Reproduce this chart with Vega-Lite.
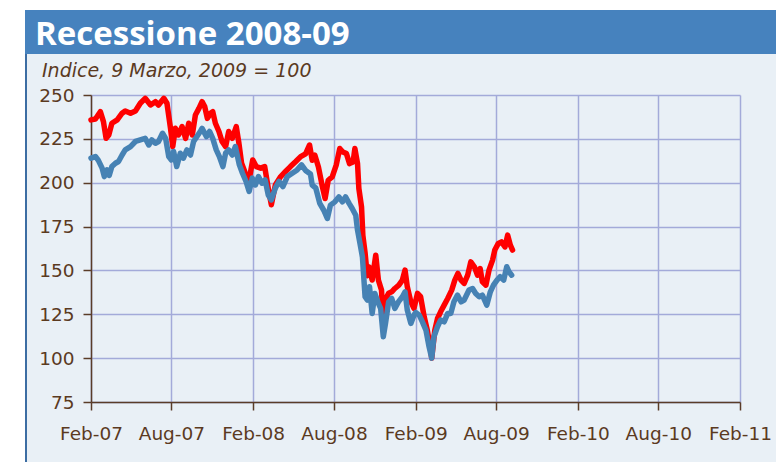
{
"$schema": "https://vega.github.io/schema/vega-lite/v6.json",
"background": "#E9F0F6",
"padding": 0,
"spacing": 0,
"bounds": "flush",
"config": {"view": {"stroke": null}, "font": "Open Sans", "concat": {"spacing": 0}},
"datasets": {
"rosso": [
{"d":"2007-02-01","v":235.8},{"d":"2007-02-11","v":236.3},{"d":"2007-02-22","v":240.5},{"d":"2007-03-01","v":234.8},{"d":"2007-03-07","v":225.3},{"d":"2007-03-13","v":227.2},{"d":"2007-03-20","v":233.9},{"d":"2007-04-01","v":235.8},{"d":"2007-04-12","v":239.6},{"d":"2007-04-19","v":240.9},{"d":"2007-05-01","v":239.6},{"d":"2007-05-12","v":240.9},{"d":"2007-05-23","v":245.3},{"d":"2007-06-03","v":248.1},{"d":"2007-06-15","v":244.3},{"d":"2007-06-26","v":246.2},{"d":"2007-07-03","v":244.3},{"d":"2007-07-15","v":248.1},{"d":"2007-07-22","v":245.3},{"d":"2007-07-30","v":231},{"d":"2007-08-04","v":220.6},{"d":"2007-08-10","v":231},{"d":"2007-08-17","v":227.2},{"d":"2007-08-25","v":232},{"d":"2007-09-02","v":225.3},{"d":"2007-09-09","v":233.9},{"d":"2007-09-17","v":227.2},{"d":"2007-09-24","v":238.6},{"d":"2007-10-02","v":242.4},{"d":"2007-10-09","v":246.2},{"d":"2007-10-15","v":243.4},{"d":"2007-10-21","v":236.7},{"d":"2007-10-28","v":239.6},{"d":"2007-11-02","v":240.5},{"d":"2007-11-08","v":233.9},{"d":"2007-11-16","v":229.2},{"d":"2007-11-23","v":223.5},{"d":"2007-12-01","v":220.6},{"d":"2007-12-08","v":229.2},{"d":"2007-12-16","v":225.3},{"d":"2007-12-25","v":232},{"d":"2007-12-31","v":222.5},{"d":"2008-01-06","v":211.1},{"d":"2008-01-13","v":206.4},{"d":"2008-01-21","v":198.7},{"d":"2008-01-31","v":213},{"d":"2008-02-08","v":209.2},{"d":"2008-02-18","v":208.3},{"d":"2008-02-27","v":209.2},{"d":"2008-03-06","v":196.9},{"d":"2008-03-13","v":187.4},{"d":"2008-03-22","v":198.7},{"d":"2008-04-03","v":203.5},{"d":"2008-04-14","v":206.4},{"d":"2008-04-25","v":209.2},{"d":"2008-05-07","v":212.1},{"d":"2008-05-18","v":214.9},{"d":"2008-05-29","v":216.5},{"d":"2008-06-07","v":221.5},{"d":"2008-06-13","v":212.8},{"d":"2008-06-19","v":215.7},{"d":"2008-06-27","v":209},{"d":"2008-07-06","v":197.6},{"d":"2008-07-12","v":191},{"d":"2008-07-19","v":201.4},{"d":"2008-07-28","v":203.3},{"d":"2008-08-06","v":210},{"d":"2008-08-14","v":219.5},{"d":"2008-08-21","v":217.5},{"d":"2008-08-29","v":216.6},{"d":"2008-09-05","v":210.9},{"d":"2008-09-13","v":211.8},{"d":"2008-09-17","v":219.5},{"d":"2008-09-23","v":210.9},{"d":"2008-09-26","v":196.7},{"d":"2008-10-02","v":186.2},{"d":"2008-10-05","v":170},{"d":"2008-10-10","v":160},{"d":"2008-10-15","v":147},{"d":"2008-10-19","v":152},{"d":"2008-10-26","v":144.5},{"d":"2008-11-03","v":158.7},{"d":"2008-11-09","v":144.5},{"d":"2008-11-16","v":138.8},{"d":"2008-11-20","v":118},{"d":"2008-11-24","v":133.1},{"d":"2008-12-02","v":137},{"d":"2008-12-09","v":137.8},{"d":"2008-12-16","v":139.7},{"d":"2008-12-25","v":141.6},{"d":"2009-01-02","v":144.5},{"d":"2009-01-08","v":150.2},{"d":"2009-01-13","v":140.7},{"d":"2009-01-21","v":132.1},{"d":"2009-01-28","v":128.4},{"d":"2009-02-05","v":136.9},{"d":"2009-02-12","v":135},{"d":"2009-02-20","v":123.6},{"d":"2009-02-27","v":116},{"d":"2009-03-05","v":107.5},{"d":"2009-03-09","v":100},{"d":"2009-03-16","v":116},{"d":"2009-03-22","v":122.6},{"d":"2009-03-29","v":126.4},{"d":"2009-04-06","v":130.2},{"d":"2009-04-14","v":134},{"d":"2009-04-23","v":138.8},{"d":"2009-04-30","v":144.5},{"d":"2009-05-07","v":148.3},{"d":"2009-05-14","v":144.5},{"d":"2009-05-21","v":142.6},{"d":"2009-05-29","v":147.3},{"d":"2009-06-05","v":154.9},{"d":"2009-06-13","v":152.1},{"d":"2009-06-20","v":147.3},{"d":"2009-06-26","v":151.1},{"d":"2009-07-01","v":143.5},{"d":"2009-07-09","v":141.6},{"d":"2009-07-16","v":150.2},{"d":"2009-07-24","v":155.9},{"d":"2009-07-29","v":161.6},{"d":"2009-08-06","v":165.4},{"d":"2009-08-13","v":166.3},{"d":"2009-08-21","v":163.4},{"d":"2009-08-27","v":170.1},{"d":"2009-09-02","v":164.4},{"d":"2009-09-07","v":161.6}
],
"blu": [
{"d":"2007-02-01","v":214},{"d":"2007-02-11","v":214.9},{"d":"2007-02-17","v":213},{"d":"2007-02-26","v":208.3},{"d":"2007-03-03","v":203.5},{"d":"2007-03-09","v":207.3},{"d":"2007-03-14","v":204.1},{"d":"2007-03-20","v":209.2},{"d":"2007-03-28","v":211.1},{"d":"2007-04-04","v":212.1},{"d":"2007-04-12","v":215.8},{"d":"2007-04-19","v":218.7},{"d":"2007-05-01","v":220.6},{"d":"2007-05-12","v":223.5},{"d":"2007-05-23","v":224.4},{"d":"2007-06-03","v":225.3},{"d":"2007-06-11","v":221.5},{"d":"2007-06-18","v":224.4},{"d":"2007-06-26","v":222.5},{"d":"2007-07-03","v":223.5},{"d":"2007-07-12","v":228.2},{"d":"2007-07-19","v":225.3},{"d":"2007-07-26","v":214.9},{"d":"2007-08-01","v":213},{"d":"2007-08-06","v":217.8},{"d":"2007-08-13","v":209.2},{"d":"2007-08-21","v":216.8},{"d":"2007-08-28","v":214},{"d":"2007-09-05","v":218.7},{"d":"2007-09-13","v":215.8},{"d":"2007-09-20","v":223.5},{"d":"2007-10-05","v":229.2},{"d":"2007-10-09","v":231},{"d":"2007-10-19","v":226.3},{"d":"2007-10-26","v":229.2},{"d":"2007-11-02","v":225.3},{"d":"2007-11-10","v":218.7},{"d":"2007-11-17","v":214.9},{"d":"2007-11-25","v":209.2},{"d":"2007-12-01","v":216.8},{"d":"2007-12-08","v":218.7},{"d":"2007-12-16","v":215.8},{"d":"2007-12-23","v":220.6},{"d":"2008-01-01","v":210.2},{"d":"2008-01-08","v":205.4},{"d":"2008-01-16","v":200.7},{"d":"2008-01-23","v":195},{"d":"2008-01-30","v":202.6},{"d":"2008-02-06","v":198.7},{"d":"2008-02-13","v":203.5},{"d":"2008-02-21","v":199.7},{"d":"2008-02-28","v":201.6},{"d":"2008-03-06","v":193},{"d":"2008-03-13","v":190.2},{"d":"2008-03-22","v":196.9},{"d":"2008-03-30","v":200.7},{"d":"2008-04-08","v":197.8},{"d":"2008-04-18","v":203.5},{"d":"2008-04-29","v":205.4},{"d":"2008-05-10","v":207.3},{"d":"2008-05-20","v":210.2},{"d":"2008-05-29","v":207},{"d":"2008-06-09","v":205},{"d":"2008-06-13","v":198.6},{"d":"2008-06-21","v":197},{"d":"2008-06-30","v":188.2},{"d":"2008-07-09","v":184.3},{"d":"2008-07-17","v":179.6},{"d":"2008-07-24","v":187.2},{"d":"2008-08-03","v":189.1},{"d":"2008-08-12","v":191.9},{"d":"2008-08-20","v":189.1},{"d":"2008-08-27","v":191.9},{"d":"2008-09-04","v":188.2},{"d":"2008-09-11","v":185.3},{"d":"2008-09-19","v":181.5},{"d":"2008-09-23","v":173},{"d":"2008-09-30","v":163.4},{"d":"2008-10-04","v":157.7},{"d":"2008-10-10","v":135},{"d":"2008-10-15","v":133.1},{"d":"2008-10-20","v":140.7},{"d":"2008-10-26","v":125.5},{"d":"2008-11-01","v":136.9},{"d":"2008-11-09","v":131.2},{"d":"2008-11-14","v":128.4},{"d":"2008-11-20","v":112.2},{"d":"2008-11-25","v":119.8},{"d":"2008-12-02","v":132.1},{"d":"2008-12-09","v":134},{"d":"2008-12-16","v":128.4},{"d":"2008-12-24","v":132.1},{"d":"2009-01-02","v":135},{"d":"2009-01-08","v":137.8},{"d":"2009-01-13","v":127.4},{"d":"2009-01-21","v":119.8},{"d":"2009-01-28","v":124.5},{"d":"2009-02-01","v":126},{"d":"2009-02-09","v":124.5},{"d":"2009-02-16","v":120.7},{"d":"2009-02-24","v":116},{"d":"2009-03-03","v":106.5},{"d":"2009-03-09","v":100},{"d":"2009-03-14","v":112.2},{"d":"2009-03-22","v":117.9},{"d":"2009-03-29","v":121.7},{"d":"2009-04-06","v":120.7},{"d":"2009-04-14","v":125.5},{"d":"2009-04-21","v":125.5},{"d":"2009-04-28","v":132.1},{"d":"2009-05-06","v":135.9},{"d":"2009-05-14","v":132.1},{"d":"2009-05-21","v":133.1},{"d":"2009-06-01","v":138.8},{"d":"2009-06-09","v":139.7},{"d":"2009-06-16","v":136.9},{"d":"2009-06-24","v":135},{"d":"2009-07-01","v":135.9},{"d":"2009-07-11","v":130.2},{"d":"2009-07-19","v":137.8},{"d":"2009-07-26","v":141.6},{"d":"2009-08-03","v":144.5},{"d":"2009-08-10","v":146.4},{"d":"2009-08-18","v":144.5},{"d":"2009-08-25","v":152.1},{"d":"2009-08-30","v":149.2},{"d":"2009-09-05","v":147.3}
],
"vuoto": []
},
"hconcat": [
{"width": 25, "height": 462, "data": {"name": "vuoto"}, "mark": "point", "encoding": {}, "view": {"fill": "white", "stroke": null}},
{"spacing": 0, "bounds": "flush", "vconcat": [
 {"width": 2, "height": 10, "data": {"name": "vuoto"}, "mark": "point", "encoding": {}, "view": {"fill": "white", "stroke": null}},
 {"width": 2, "height": 44, "data": {"name": "vuoto"}, "mark": "point", "encoding": {}, "view": {"fill": "#4682BE", "stroke": null}},
 {"width": 2, "height": 408, "data": {"name": "vuoto"}, "mark": "point", "encoding": {}, "view": {"fill": "#3C6DA3", "stroke": null}}
]},
{
"spacing": 0,
"bounds": "flush",
"vconcat": [
{"width": 751, "height": 10, "data": {"name": "vuoto"}, "mark": "point", "encoding": {}, "view": {"fill": "white", "stroke": null}},
{"width": 751, "height": 44, "data": {"name": "vuoto"}, "mark": "point", "encoding": {}, "view": {"fill": "#4682BE", "stroke": null},
 "title": {"text": "Recessione 2008-09", "orient": "top", "anchor": "start", "frame": "group", "offset": -33, "dy": 35, "baseline": "alphabetic", "dx": 10, "color": "white", "fontSize": 33, "fontWeight": "bold", "font": "Open Sans"}},
{"width": 751, "height": 41, "data": {"name": "vuoto"}, "mark": "point", "encoding": {}},
{
"spacing": 0,
"bounds": "flush",
"hconcat": [
{"width": 66, "height": 307, "data": {"name": "vuoto"}, "mark": "point", "encoding": {}},
{
"width": 649, "height": 307,
"title": {"text": "Indice, 9 Marzo, 2009 = 100", "orient": "top", "anchor": "start", "frame": "bounds", "offset": 8, "dy": 18, "baseline": "alphabetic", "dx": 17, "fontSize": 19, "fontStyle": "italic", "fontWeight": "normal", "color": "#5B3A1F", "font": "DejaVu Sans"},
"encoding": {
"x": {"field": "d", "type": "temporal",
 "scale": {"type": "utc", "domain": [{"year": 2007, "month": 2, "date": 1, "utc": true}, {"year": 2011, "month": 2, "date": 1, "utc": true}]},
 "axis": {"title": null, "format": "%b-%y",
  "values": [{"year": 2007, "month": 2, "date": 1, "utc": true}, {"year": 2007, "month": 8, "date": 1, "utc": true}, {"year": 2008, "month": 2, "date": 1, "utc": true}, {"year": 2008, "month": 8, "date": 1, "utc": true}, {"year": 2009, "month": 2, "date": 1, "utc": true}, {"year": 2009, "month": 8, "date": 1, "utc": true}, {"year": 2010, "month": 2, "date": 1, "utc": true}, {"year": 2010, "month": 8, "date": 1, "utc": true}, {"year": 2011, "month": 2, "date": 1, "utc": true}],
  "labelFont": "DejaVu Sans", "labelFontSize": 18.5, "labelColor": "#5B3A1F", "labelPadding": 14, "labelFlush": false, "labelOverlap": false,
  "tickSize": 8, "tickColor": "#5A3C28", "tickWidth": 1.5, "domainColor": "#5A3C28", "domainWidth": 1.5,
  "grid": true, "gridColor": "#A3AAD9", "gridWidth": 1.5}},
"y": {"field": "v", "type": "quantitative",
 "scale": {"domain": [75, 250], "nice": false, "zero": false},
 "axis": {"title": null, "values": [75, 100, 125, 150, 175, 200, 225, 250], "minExtent": 66,
  "labelFont": "DejaVu Sans", "labelFontSize": 18.5, "labelColor": "#5B3A1F", "labelPadding": 9,
  "tickSize": 8, "tickColor": "#5A3C28", "tickWidth": 1.5, "domainColor": "#5A3C28", "domainWidth": 1.5,
  "grid": true, "gridColor": "#A3AAD9", "gridWidth": 1.5}}
},
"layer": [
{"data": {"name": "rosso"}, "mark": {"type": "line", "color": "#FF0000", "strokeWidth": 5.5, "strokeJoin": "round", "strokeCap": "round"}},
{"data": {"name": "blu"}, "mark": {"type": "line", "color": "#4682B4", "strokeWidth": 5.5, "strokeJoin": "round", "strokeCap": "round"}}
]
}
]
}
]
}
]
}
